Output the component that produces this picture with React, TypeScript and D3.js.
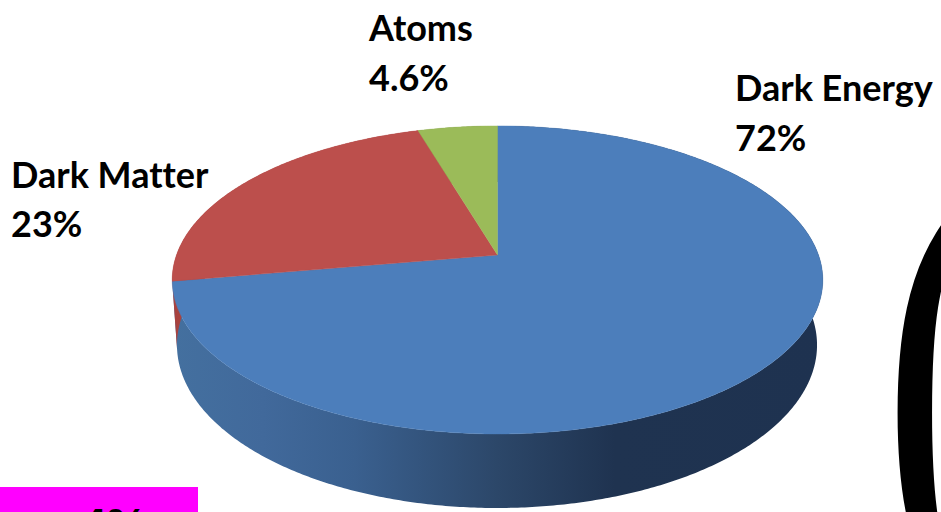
import React from "react";
import * as d3 from "d3";

const WIDTH = 941;
const HEIGHT = 512;

// Composition of the universe, in percent, clockwise from 12 o'clock
const categories = ["Dark Energy", "Dark Matter", "Atoms"];
const shares = [72, 23, 4.6];
const shareLabels = ["72%", "23%", "4.6%"];
const faceColors = ["#4C7EBB", "#BC4F4C", "#9BBB59"];

// Perspective ellipses for the top face and the bottom rim of the disc
const topRim = { cx: 497.5, cy: 255, a: 150, b: 321, k: 0.162 };
const bottomRim = { cx: 497, cy: 325, a: 160.5, b: 317.6, k: 0.123 };

type Rim = typeof topRim;

// Maps a pie angle (clockwise from 12 o'clock) onto a rim
function project(theta: number, rim: Rim): [number, number] {
  const sx = Math.sin(theta);
  const sy = -Math.cos(theta);
  const w = 1 - rim.k * sy;
  return [rim.cx + (rim.b * sx) / w, rim.cy + (rim.a * sy) / w];
}

function sampleAngles(start: number, end: number): number[] {
  const steps = Math.max(2, Math.ceil((end - start) / 0.01));
  return d3.range(steps + 1).map((i) => start + ((end - start) * i) / steps);
}

const slices = d3
  .pie<number>()
  .sort(null)
  .startAngle(0)
  .endAngle(2 * Math.PI)(shares);

const pathOf = d3.line().curve(d3.curveLinear);

function facePath(start: number, end: number): string {
  const rimPts = sampleAngles(start, end).map((t) => project(t, topRim));
  return pathOf([[topRim.cx, topRim.cy], ...rimPts])! + "Z";
}

function wallPath(start: number, end: number): string {
  const angles = sampleAngles(start, end);
  const upper = angles.map((t) => project(t, topRim));
  const lower = angles.map((t) => project(t, bottomRim)).reverse();
  return pathOf([...upper, ...lower])! + "Z";
}

const wallGradients = [
  { id: "wall-0", stops: [["0%", "#44709F"], ["14%", "#41699B"], ["28%", "#3A608F"], ["50%", "#2C4769"], ["68%", "#1F3350"], ["100%", "#1E3250"]] },
  { id: "wall-1", stops: [["0%", "#A8423F"], ["100%", "#8E3836"]] },
  { id: "wall-2", stops: [["0%", "#7A9544"], ["100%", "#5E7334"]] },
];

const labelFont = "Lato, sans-serif";
const labelPositions = [
  { x: 735, y1: 101, y2: 151 },
  { x: 11, y1: 188, y2: 237 },
  { x: 369, y1: 41, y2: 91 },
];

export default function App() {
  return (
    <svg
      width={WIDTH}
      height={HEIGHT}
      viewBox={`0 0 ${WIDTH} ${HEIGHT}`}
      style={{ position: "absolute", left: 0, top: 0, background: "#fff", overflow: "hidden" }}
    >
      <defs>
        {wallGradients.map((g) => (
          <linearGradient key={g.id} id={g.id} gradientUnits="userSpaceOnUse" x1={172} x2={823} y1={0} y2={0}>
            {g.stops.map(([o, c]) => (
              <stop key={o} offset={o} stopColor={c} />
            ))}
          </linearGradient>
        ))}
      </defs>

      {/* Side walls go first; the top faces cover their hidden rear part */}
      {slices.map((s, i) => (
        <path key={`w${i}`} d={wallPath(s.startAngle, s.endAngle)} fill={`url(#wall-${i})`} />
      ))}
      {slices.map((s, i) => (
        <path key={`f${i}`} d={facePath(s.startAngle, s.endAngle)} fill={faceColors[i]} stroke={faceColors[i]} strokeWidth={0.4} />
      ))}

      {categories.map((name, i) => (
        <g key={name} fontFamily={labelFont} fontWeight={700} fontSize={36} fill="#000" style={{ fontVariantLigatures: "none" }}>
          <text x={labelPositions[i].x} y={labelPositions[i].y1}>{name}</text>
          <text x={labelPositions[i].x} y={labelPositions[i].y2}>{shareLabels[i]}</text>
        </g>
      ))}

      {/* Callout tag cut off by the bottom edge */}
      <rect x={0} y={487} width={198} height={25} fill="#FF00FF" />
      <text x={81} y={541} fontFamily="Liberation Sans, sans-serif" fontWeight={700} fontSize={46} fill="#000">4%</text>

      {/* Oversized bracket running off the right edge */}
      <text
        transform="translate(881.5 540) scale(0.693 1)"
        fontFamily="Liberation Serif, serif"
        fontSize={528}
        fill="#000"
      >
        (
      </text>
    </svg>
  );
}
